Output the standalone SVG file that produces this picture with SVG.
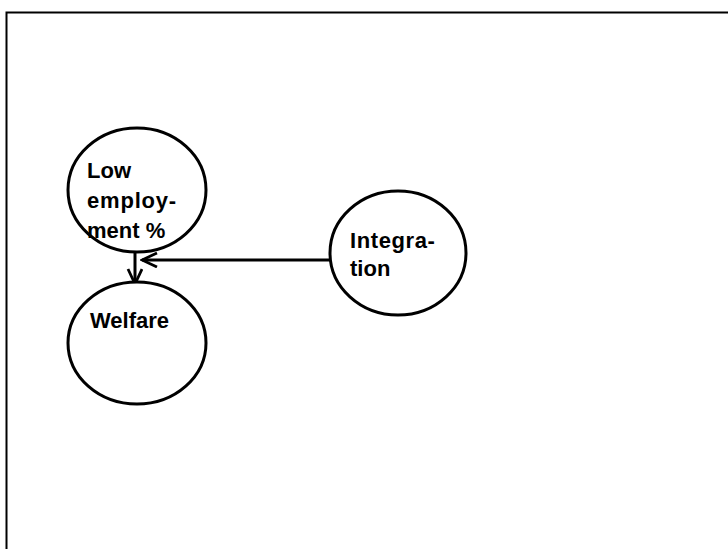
<svg xmlns="http://www.w3.org/2000/svg" width="728" height="549" viewBox="0 0 728 549">
  <defs>
    <marker id="arrow" markerWidth="18" markerHeight="18" refX="16" refY="8" orient="auto" markerUnits="userSpaceOnUse">
      <path d="M1,1 L16,8 L1,15" fill="none" stroke="#000" stroke-width="2.8"/>
    </marker>
  </defs>
  <style>
    .node { fill: #fff; stroke: #000; stroke-width: 3; }
    .label { font-family: "Liberation Sans", Arial, sans-serif; font-weight: bold; font-size: 22px; fill: #000; }
    .edge { stroke: #000; stroke-width: 3; fill: none; }
  </style>
  <rect width="728" height="549" fill="#fff"/>
  <!-- frame -->
  <path d="M6.5,549 V12.5 H728" fill="none" stroke="#000" stroke-width="2"/>

  <g id="connectors">
    <line class="edge" x1="135" y1="252" x2="135" y2="284" marker-end="url(#arrow)"/>
    <line class="edge" x1="330" y1="260" x2="142" y2="260" marker-end="url(#arrow)"/>
  </g>

  <g id="low-employment">
    <ellipse class="node" cx="137" cy="190" rx="69" ry="62"/>
    <text class="label" x="87" y="178">Low</text>
    <text class="label" x="87" y="208" letter-spacing="0.8">employ-</text>
    <text class="label" x="87" y="238">ment %</text>
  </g>

  <g id="welfare">
    <ellipse class="node" cx="137" cy="343" rx="69" ry="61"/>
    <text class="label" x="90" y="328">Welfare</text>
  </g>

  <g id="integration">
    <ellipse class="node" cx="398" cy="253" rx="68" ry="62"/>
    <text class="label" x="350" y="248" letter-spacing="0.6">Integra-</text>
    <text class="label" x="350" y="276">tion</text>
  </g>
</svg>
